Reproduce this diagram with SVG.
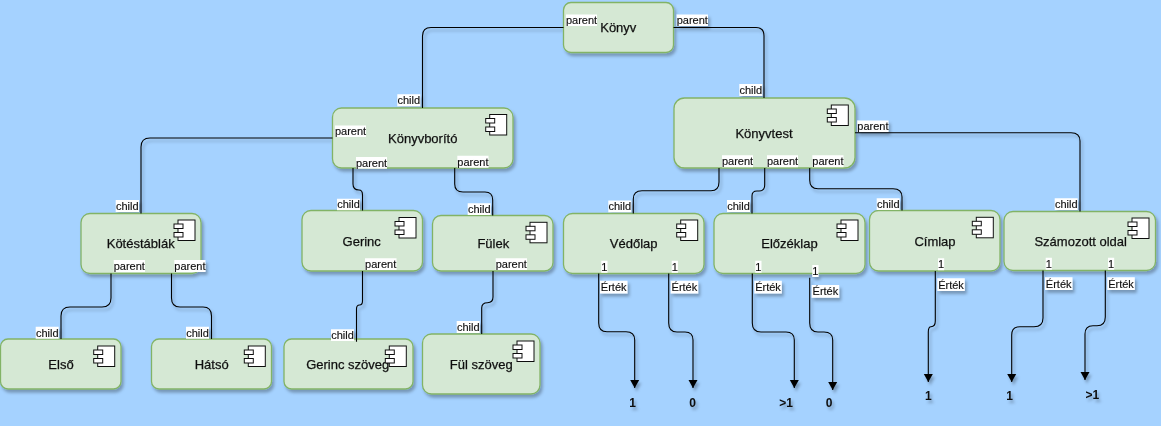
<svg xmlns="http://www.w3.org/2000/svg" width="1161" height="426" viewBox="0 0 1161 426">
<style>
.n{fill:#d5e8d4;stroke:#82b366;stroke-width:1.3}
.t{font:13px "Liberation Sans",Arial,sans-serif;fill:#111;stroke:#111;stroke-width:.25;text-anchor:middle;dominant-baseline:central}
.l{font:11px "Liberation Sans",Arial,sans-serif;fill:#111;stroke:#111;stroke-width:.15;text-anchor:middle}
.v{font:bold 12px "Liberation Sans",Arial,sans-serif;fill:#111;text-anchor:middle}
.b{fill:#fff}
.c{fill:none;stroke:#000;stroke-width:1.1;marker-end:url(#a)}
.d{fill:none;stroke:#000;stroke-width:1.1}
.i rect{fill:#fff;stroke:#111;stroke-width:1}
</style>
<defs>
<marker id="a" markerUnits="userSpaceOnUse" markerWidth="12" markerHeight="12" refX="9" refY="6" orient="auto"><path d="M1 1.5L9 6L1 10.5Z" fill="#000"/></marker>
<g id="ic" class="i"><rect x="4" y="0" width="17" height="20.5"/><rect x="0" y="4" width="9" height="4.5"/><rect x="0" y="12.5" width="9" height="4.5"/></g>
<filter id="s" x="-2%" y="-2%" width="104%" height="106%"><feDropShadow dx="2" dy="3" stdDeviation="1.5" flood-color="#000" flood-opacity=".28"/></filter>
</defs>
<rect width="1161" height="426" fill="#a5d2ff"/>
<g filter="url(#s)">
<g id="konyv"><rect class="n" x="563.5" y="2.5" width="110" height="50" rx="7.5"/><text class="t" x="618.3" y="27.5">Könyv</text></g>
<g id="konyvborito"><rect class="n" x="332.5" y="108" width="180.5" height="60" rx="9"/><text class="t" x="422.7" y="138.5">Könyvborító</text><use href="#ic" x="485.7" y="114.5"/></g>
<g id="konyvtest"><rect class="n" x="674" y="98" width="181" height="70" rx="10.5"/><text class="t" x="764" y="133.5">Könyvtest</text><use href="#ic" x="827.3" y="105"/></g>
<g id="kotestablak"><rect class="n" x="81" y="213.5" width="120" height="60" rx="9"/><text class="t" x="140.7" y="243.5">Kötéstáblák</text><use href="#ic" x="174" y="220"/></g>
<g id="gerinc"><rect class="n" x="302" y="210.5" width="120.5" height="60.5" rx="9"/><text class="t" x="361.7" y="241.3">Gerinc</text><use href="#ic" x="395" y="217.5"/></g>
<g id="fulek"><rect class="n" x="432.5" y="215.5" width="120.5" height="55.5" rx="8.5"/><text class="t" x="493.3" y="243.3">Fülek</text><use href="#ic" x="526" y="222.3"/></g>
<g id="vedolap"><rect class="n" x="563.5" y="213.5" width="140.5" height="60" rx="9"/><text class="t" x="633.7" y="243.5">Védőlap</text><use href="#ic" x="676.7" y="220"/></g>
<g id="elozeklap"><rect class="n" x="714" y="213.5" width="151" height="60" rx="9"/><text class="t" x="789.5" y="243.5">Előzéklap</text><use href="#ic" x="837" y="220"/></g>
<g id="cimlap"><rect class="n" x="869.5" y="210.5" width="130.5" height="60.5" rx="9"/><text class="t" x="935" y="241.5">Címlap</text><use href="#ic" x="972.3" y="217.3"/></g>
<g id="szamozott"><rect class="n" x="1004" y="211.5" width="151.5" height="59" rx="9"/><text class="t" x="1080.7" y="241.5">Számozott oldal</text><use href="#ic" x="1128" y="218"/></g>
<g id="elso"><rect class="n" x="0.5" y="339" width="120.5" height="50" rx="7.5"/><text class="t" x="61" y="364.7">Első</text><use href="#ic" x="93.7" y="346"/></g>
<g id="hatso"><rect class="n" x="151.5" y="339" width="120" height="50" rx="7.5"/><text class="t" x="211.7" y="364.7">Hátsó</text><use href="#ic" x="244.3" y="346"/></g>
<g id="gerinc-szoveg"><rect class="n" x="284" y="339" width="129" height="50" rx="7.5"/><text class="t" x="347.7" y="364.7">Gerinc szöveg</text><use href="#ic" x="385.3" y="346"/></g>
<g id="ful-szoveg"><rect class="n" x="422.5" y="334" width="117.5" height="60" rx="9"/><text class="t" x="481.3" y="364.7">Fül szöveg</text><use href="#ic" x="513" y="341"/></g>
<g id="connectors">
<path class="d" d="M563.5 27.5H431Q422.5 27.5 422.5 36V108"/>
<path class="d" d="M673.5 27.5H756Q764 27.5 764 36V98"/>
<path class="d" d="M332.5 138H150Q141 138 141 147V213.5"/>
<path class="d" d="M353 168V184Q353 190 359 190Q362.5 190 362.5 195V210.5"/>
<path class="d" d="M454.7 168V184Q454.7 192 463 192H485Q492.7 192 492.7 200V215.5"/>
<path class="d" d="M719 168V182Q719 190.7 711 190.7H642Q633.3 190.7 633.3 199V213.5"/>
<path class="d" d="M764.7 168V185Q764.7 191 759 191H757Q752 191 752 196V213.5"/>
<path class="d" d="M809.7 168V180Q809.7 188.7 818 188.7H893Q902 188.7 902 197V210.5"/>
<path class="d" d="M855 132.7H1071Q1080 132.7 1080 141V211.5"/>
<path class="d" d="M111 273.5V298Q111 307 102 307H70Q61 307 61 316V339"/>
<path class="d" d="M171.5 273.5V298Q171.5 307 180 307H203Q211.5 307 211.5 316V339"/>
<path class="d" d="M362.5 271V301Q362.5 305 359.5 305Q356.5 305 356.5 309V341.7"/>
<path class="d" d="M493 271V297Q493 302.7 487.5 302.7Q481.7 302.7 481.7 308V334"/>
<path class="c" d="M598.7 273.5V323Q598.7 331.7 607 331.7H626Q634.7 331.7 634.7 340V388"/>
<path class="c" d="M668.7 273.5V323Q668.7 332 677 332H685Q693 332 693 340V388"/>
<path class="c" d="M752.3 273.5V323Q752.3 332 761 332H786Q794.3 332 794.3 340V388"/>
<path class="c" d="M809.7 277.7V323Q809.7 332 818 332H824Q832.7 332 832.7 340V390"/>
<path class="c" d="M935.3 271V321Q935.3 326.7 931 326.7Q928.3 326.7 928.3 332V382"/>
<path class="c" d="M1043 270.5V318Q1043 326.7 1034 326.7H1020Q1011.7 326.7 1011.7 335V382"/>
<path class="c" d="M1105.3 270.5V317Q1105.3 325.7 1097 325.7H1093Q1085 325.7 1085 334V380"/>
<g id="labels">
<path class="b" d="M566 14.5h31v11.5h-31zM676.7 14.5h31.3v11.5h-31.3zM397.3 94.3h23v12h-23zM335 125.5h31v11.5h-31zM356 157h31v11.7h-31zM457.3 155.7h31.2v12h-31.2zM337 198.7h23v11.5h-23zM467.7 203.3h23v11.7h-23zM608.3 200.5h23v11.7h-23zM115.7 200h23.3v12h-23.3zM113.7 260h31.3v12h-31.3zM174.3 260h31.2v12h-31.2zM365 258.3h31.5v11.7h-31.5zM35.7 326.7h23v12h-23zM186 326.7h23v12h-23zM331 329.3h23v11.7h-23zM495.7 258.3h31.3v11.7h-31.3zM456.7 321h23v12h-23zM727 200h23v12h-23zM876.7 198.3h23v11.7h-23zM1054.7 198.3h23v11.7h-23zM739.3 84h23v12h-23zM722 155.3h31v12h-31zM767 155.3h31v12h-31zM812.3 155.3h31.2v12h-31.2zM857.3 120.5h31.2v11.5h-31.2zM601.3 260.7h6.2v12h-6.2zM671.7 260.7h6.2v12h-6.2zM755.3 260.7h6.2v12h-6.2zM812.3 265h6.2v12h-6.2zM938 258.3h6.2v12h-6.2zM1045.7 257.7h6.2v12h-6.2zM1108 257.7h6.2v12h-6.2zM600 280.7h27.5v12.7h-27.5zM670.7 280.7h27.5v12.7h-27.5zM754.3 280.7h27.5v12.7h-27.5zM811.7 285h27.5v12.7h-27.5zM937.3 278.3h27.5v12.7h-27.5zM1045 277.3h27.5v12.7h-27.5zM1107.3 277.3h27.5v12.7h-27.5z"/>
<text class="l" x="581.5" y="24">parent</text><text class="l" x="692.3" y="24">parent</text>
<text class="l" x="408.8" y="104">child</text><text class="l" x="350.5" y="135">parent</text>
<text class="l" x="371.5" y="166.5">parent</text><text class="l" x="472.9" y="165.5">parent</text>
<text class="l" x="348.5" y="208">child</text><text class="l" x="479.2" y="213">child</text>
<text class="l" x="619.8" y="210">child</text><text class="l" x="127.3" y="210">child</text>
<text class="l" x="129.3" y="270">parent</text><text class="l" x="189.9" y="270">parent</text>
<text class="l" x="380.7" y="268">parent</text><text class="l" x="47.2" y="336.5">child</text>
<text class="l" x="197.5" y="336.5">child</text><text class="l" x="342.5" y="339">child</text>
<text class="l" x="511.3" y="268">parent</text><text class="l" x="468.2" y="331">child</text>
<text class="l" x="738.5" y="210">child</text><text class="l" x="888.2" y="208">child</text>
<text class="l" x="1066.2" y="208">child</text><text class="l" x="750.8" y="94">child</text>
<text class="l" x="737.5" y="165">parent</text><text class="l" x="782.5" y="165">parent</text>
<text class="l" x="827.9" y="165">parent</text><text class="l" x="872.9" y="130">parent</text>
<text class="l" x="604.4" y="270.5">1</text><text class="l" x="674.8" y="270.5">1</text>
<text class="l" x="758.4" y="270.5">1</text><text class="l" x="815.4" y="275">1</text>
<text class="l" x="941.1" y="268">1</text><text class="l" x="1048.8" y="267.5">1</text><text class="l" x="1111.1" y="267.5">1</text>
<text class="l" x="613.7" y="291">Érték</text><text class="l" x="684.4" y="291">Érték</text>
<text class="l" x="768" y="291">Érték</text><text class="l" x="825.4" y="295">Érték</text>
<text class="l" x="951" y="289">Érték</text><text class="l" x="1058.7" y="288">Érték</text><text class="l" x="1121" y="288">Érték</text>
</g>
</g>
<g id="values">
<text class="v" x="632.7" y="407">1</text><text class="v" x="692.7" y="407">0</text>
<text class="v" x="786" y="407">&gt;1</text><text class="v" x="829" y="407">0</text>
<text class="v" x="928.3" y="400">1</text><text class="v" x="1009.7" y="400">1</text>
<text class="v" x="1092.3" y="398.5">&gt;1</text>
</g>
</g>
</svg>
